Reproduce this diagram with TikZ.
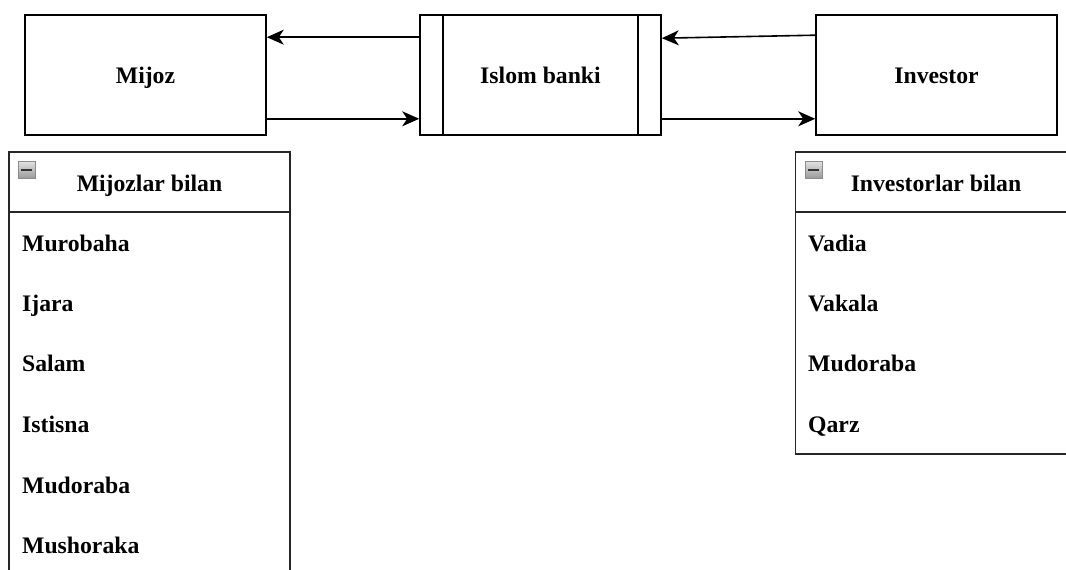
\documentclass[tikz,border=0pt]{standalone}
\usepackage{fontspec}
\setmainfont{Liberation Serif}
\usetikzlibrary{arrows.meta}
\begin{document}
\begin{tikzpicture}[x=1pt,y=-1pt,
  every node/.style={font=\fontsize{23.7}{28}\selectfont\bfseries, text=black},
  boxnode/.style={draw=black, line width=1.6pt, minimum width=241pt, minimum height=120pt, inner sep=0pt, text height=18pt, text depth=2pt},
  listbox/.style={draw=black!85, line width=1.6pt, inner sep=0pt},
  itemtext/.style={anchor=base west, inner sep=0pt},
  headtext/.style={anchor=base, inner sep=0pt},
  arr/.style={draw=black, line width=1.6pt, -{Stealth[length=17pt,width=15pt,inset=5pt]}},
  minusicon/.style={draw=black!45, line width=0.8pt, top color=black!12, bottom color=black!40, minimum size=17pt, inner sep=0pt}
]
\useasboundingbox (0,0) rectangle (1066,570);
\clip (0,0) rectangle (1066,570);

% top row
\node[boxnode] (mijoz) at (145.5,75) {Mijoz};
\node[boxnode] (bank) at (540.5,75) {Islom banki};
\node[boxnode] (inv) at (936.5,75) {Investor};
\draw[line width=1.6pt] ([xshift=24pt]bank.north west) -- ([xshift=24pt]bank.south west);
\draw[line width=1.6pt] ([xshift=-24pt]bank.north east) -- ([xshift=-24pt]bank.south east);

% arrows
\draw[arr] ([yshift=-23pt]bank.north west) -- ([yshift=-23pt]mijoz.north east);
\draw[arr] ([yshift=17pt]mijoz.south east) -- ([yshift=17pt]bank.south west);
\draw[arr] ([yshift=-21pt]inv.north west) -- ([yshift=-24pt]bank.north east);
\draw[arr] ([yshift=17pt]bank.south east) -- ([yshift=17pt]inv.south west);

% left list
\node[listbox, minimum width=281pt, minimum height=460pt] (mlist) at (149.5,382) {};
\draw[line width=1.6pt, black!85] (9,212) coordinate (mh1) -- (290,212) coordinate (mh2);
\node[headtext] (mhead) at (149.5,191) {Mijozlar bilan};
\node[minusicon] (mminus) at (26.5,170) {};
\draw[line width=2.2pt, black!80] ([xshift=3.5pt]mminus.west) -- ([xshift=-3.5pt]mminus.east);
\node[itemtext] (m1) at (22,251.5) {Murobaha};
\node[itemtext] (m2) at (22,311.5) {Ijara};
\node[itemtext] (m3) at (22,371.5) {Salam};
\node[itemtext] (m4) at (22,432.5) {Istisna};
\node[itemtext] (m5) at (22,493.5) {Mudoraba};
\node[itemtext] (m6) at (22,553.5) {Mushoraka};

% right list
\node[listbox, minimum width=281pt, minimum height=302pt] (ilist) at (936,303) {};
\draw[line width=1.6pt, black!85] (795,212) coordinate (ih1) -- (1077,212) coordinate (ih2);
\node[headtext] (ihead) at (936,191) {Investorlar bilan};
\node[minusicon] (iminus) at (813.5,170) {};
\draw[line width=2.2pt, black!80] ([xshift=3.5pt]iminus.west) -- ([xshift=-3.5pt]iminus.east);
\node[itemtext] (i1) at (808,251.5) {Vadia};
\node[itemtext] (i2) at (808,311.5) {Vakala};
\node[itemtext] (i3) at (808,371.5) {Mudoraba};
\node[itemtext] (i4) at (808,432.5) {Qarz};
\end{tikzpicture}
\end{document}
